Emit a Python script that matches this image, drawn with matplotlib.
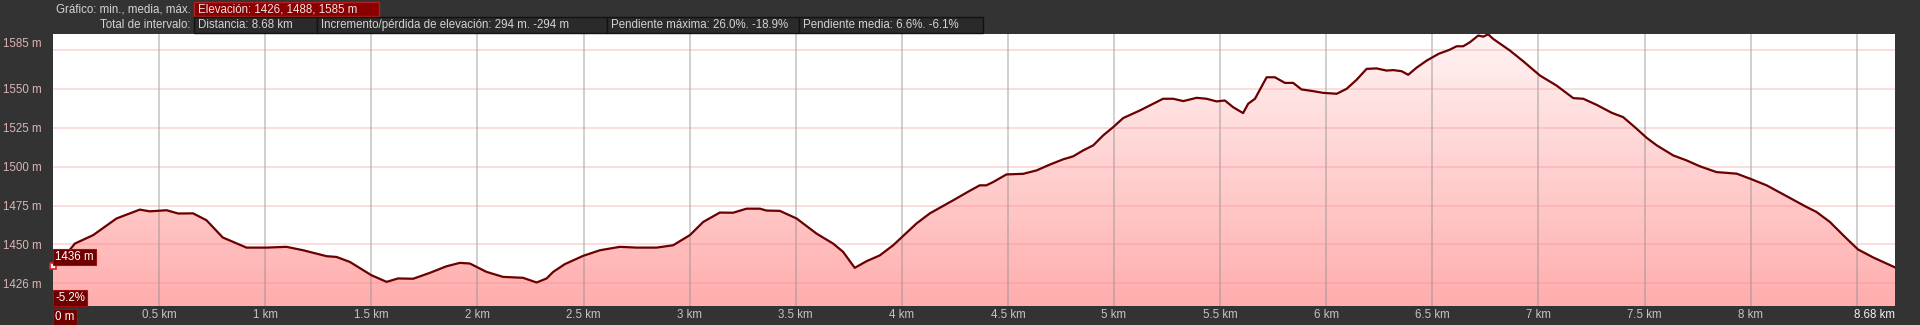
import numpy as np
import matplotlib.pyplot as plt
from matplotlib.colors import LinearSegmentedColormap
from matplotlib.patches import Rectangle

plt.rcParams['font.family'] = ['Liberation Sans', 'DejaVu Sans']

# elevation profile (km, m)
dist_km = [0.00, 0.04, 0.103, 0.189, 0.299, 0.409, 0.456, 0.535, 0.59, 0.66,
           0.723, 0.80, 0.912, 1.006, 1.10, 1.179, 1.289, 1.336, 1.399, 1.50,
           1.572, 1.626, 1.697, 1.776, 1.854, 1.917, 1.964, 2.043, 2.121, 2.184,
           2.215, 2.279, 2.326, 2.357, 2.412, 2.498, 2.577, 2.671, 2.75, 2.844,
           2.922, 3.001, 3.064, 3.142, 3.205, 3.268, 3.331, 3.362, 3.425, 3.504,
           3.598, 3.676, 3.723, 3.778, 3.834, 3.896, 3.959, 4.006, 4.069, 4.132,
           4.242, 4.32, 4.367, 4.398, 4.43, 4.493, 4.572, 4.635, 4.697, 4.76,
           4.807, 4.854, 4.902, 4.949, 4.996, 5.043, 5.122, 5.169, 5.231, 5.279,
           5.326, 5.389, 5.436, 5.483, 5.522, 5.561, 5.608, 5.632, 5.664, 5.719,
           5.758, 5.805, 5.844, 5.883, 5.938, 5.985, 6.049, 6.096, 6.143, 6.19,
           6.237, 6.284, 6.316, 6.355, 6.386, 6.425, 6.473, 6.53, 6.58, 6.614,
           6.645, 6.677, 6.716, 6.74, 6.763, 6.787, 6.865, 6.928, 7.007, 7.085,
           7.164, 7.211, 7.274, 7.345, 7.399, 7.462, 7.509, 7.557, 7.635, 7.698,
           7.761, 7.839, 7.934, 8.004, 8.075, 8.185, 8.263, 8.31, 8.373, 8.452,
           8.506, 8.577, 8.624, 8.68]
elev_m = [1436, 1440, 1450.6, 1456, 1466.7, 1472.4, 1471.3, 1472, 1469.9, 1470,
          1465.6, 1454.5, 1448, 1448, 1448.5, 1446.3, 1442.5, 1442, 1438.8, 1430.3,
          1426, 1428.2, 1428, 1431.8, 1436, 1438.2, 1437.8, 1432.4, 1429.2, 1428.8,
          1428.6, 1425.6, 1428.2, 1432.4, 1437.4, 1442.7, 1446.3, 1448.5, 1448, 1448,
          1449.5, 1456, 1464.5, 1470.5, 1470.4, 1473, 1473, 1471.8, 1471.6, 1466.7,
          1457, 1450.6, 1445.3, 1435, 1439.3, 1443, 1449.5, 1455.5, 1463.5, 1470,
          1478.4, 1484.5, 1488, 1488, 1490.1, 1495, 1495.4, 1497.6, 1501.3, 1504.7,
          1506.6, 1510.4, 1513.7, 1520.1, 1525.4, 1531.2, 1536.1, 1539.3, 1543.6, 1543.6,
          1542.1, 1544.2, 1543.6, 1541.9, 1542.5, 1538.2, 1534.4, 1540.4, 1543.6, 1557.4,
          1557.4, 1553.8, 1553.8, 1549.6, 1548.5, 1547.4, 1546.8, 1550, 1555.8, 1562.8,
          1563.1, 1561.7, 1562, 1561.3, 1559, 1563.5, 1568.1, 1572.5, 1575, 1577.3,
          1577.3, 1579.9, 1584.2, 1583.5, 1585, 1582, 1574.6, 1567.7, 1558.5, 1552.1,
          1544, 1543.6, 1539.7, 1534.6, 1531.8, 1524.4, 1518.6, 1513.7, 1507.2, 1504,
          1500.2, 1496.5, 1495.5, 1491.9, 1488, 1479.9, 1474.1, 1470.9, 1464.5, 1453.8,
          1446.8, 1441.7, 1438.8, 1435.3]

x_ticks = [0.5, 1, 1.5, 2, 2.5, 3, 3.5, 4, 4.5, 5, 5.5, 6, 6.5, 7, 7.5, 8, 8.5]
x_labels = ["0.5 km", "1 km", "1.5 km", "2 km", "2.5 km", "3 km", "3.5 km", "4 km",
            "4.5 km", "5 km", "5.5 km", "6 km", "6.5 km", "7 km", "7.5 km", "8 km",
            ""]  # 8.5 km label is hidden behind the end label in the original
y_grid = [1425, 1450, 1475, 1500, 1525, 1550, 1575]
y_label_pos = [1580, 1550, 1525, 1500, 1475, 1450, 1425]
y_labels = ["1585 m", "1550 m", "1525 m", "1500 m", "1475 m", "1450 m", "1426 m"]

total_km = 8.68
elev_min, elev_mean, elev_max = 1426, 1488, 1585
gain, loss = 294, -294
slope_max_up, slope_max_down = 26.0, -18.9
slope_mean_up, slope_mean_down = 6.6, -6.1
start_slope = -5.2

W, H = 1920, 325
BG = '#333333'
ylo, yhi = 1410.5, 1585

fig = plt.figure(figsize=(W / 100, H / 100), dpi=100, facecolor=BG)
ax = fig.add_axes([53 / W, 19 / H, (1895 - 53) / W, (306 - 34.3) / H])
ax.set_facecolor('white')

# gradient fill under the profile
cmap = LinearSegmentedColormap.from_list('pinkfade', ['#ffadad', '#fff3f3'])
grad = np.linspace(0, 1, 256).reshape(-1, 1)
img = ax.imshow(grad, extent=[0, total_km, ylo, yhi], origin='lower',
                aspect='auto', cmap=cmap, zorder=1)
poly = ax.fill_between(dist_km, elev_m, ylo, color='none', lw=0)
img.set_clip_path(poly.get_paths()[0], transform=ax.transData)

for v in x_ticks:
    ax.axvline(v, color='#8c8c8c', alpha=0.45, lw=1.3, zorder=2)
for h in y_grid:
    ax.axhline(h, color='#f08a8a', alpha=0.3, lw=1.3, zorder=2)

ax.plot(dist_km, elev_m, color='#6a0000', lw=1.6, zorder=3)
ax.plot(dist_km[0], elev_m[0], marker='s', ms=5, mfc='white', mec='#e02020',
        mew=1.2, zorder=4, clip_on=False)

ax.set_xlim(0, total_km)
ax.set_ylim(ylo, yhi)
ax.set_xticks(x_ticks, x_labels)
ax.set_yticks(y_label_pos, y_labels)
ax.tick_params(axis='x', length=0, pad=2.5, labelsize=8.3, labelcolor='#c4c4c4')
ax.tick_params(axis='y', length=0, pad=8.1, labelsize=8.3, labelcolor='#dcb4b4')
for s in ax.spines.values():
    s.set_visible(False)

box = dict(boxstyle='square,pad=0.18', fc='#6e0000', ec='#a01010', lw=0.8)
ax.annotate('8.68 km', xy=(total_km, 0), xycoords=('data', 'axes fraction'),
            xytext=(0, -2.5), textcoords='offset points', ha='right', va='top',
            fontsize=8.3, color='#f2f2f2')
ax.annotate('0 m', xy=(0, 0), xycoords=('data', 'axes fraction'),
            xytext=(1.5, -3.5), textcoords='offset points', ha='left', va='top',
            fontsize=8.3, color='white', bbox=box)
ax.annotate(f'{round(elev_m[0])} m', xy=(0, 1442), xytext=(1.5, 0),
            textcoords='offset points', ha='left', va='center', fontsize=8.3,
            color='white', bbox=box, zorder=5)
ax.annotate(f'{start_slope}%', xy=(0, 1415.6), xytext=(1.5, 0),
            textcoords='offset points', ha='left', va='center', fontsize=8.3,
            color='white', bbox=box, zorder=5)


# header
def px(x, y):
    return x / W, 1 - y / H


def hbox(x0, x1, y0, y1, fc, ec):
    r = Rectangle(px(x0, y1), (x1 - x0) / W, (y1 - y0) / H,
                  transform=fig.transFigure, fc=fc, ec=ec, lw=1)
    fig.add_artist(r)


TXT = '#d4d4d4'
fig.text(*px(191, 9), 'Gráfico: min., media, máx.', ha='right', va='center',
         fontsize=8.3, color=TXT)
hbox(194, 379, 1.7, 16, '#8a0000', '#b02020')
fig.text(*px(198, 9), f'Elevación: {elev_min}, {elev_mean}, {elev_max} m',
         ha='left', va='center', fontsize=8.3, color='#f0e0e0')

fig.text(*px(191, 25), 'Total de intervalo:', ha='right', va='center',
         fontsize=8.3, color=TXT)
row2 = [
    (194, 317, f'Distancia: {total_km} km'),
    (317, 607, f'Incremento/pérdida de elevación: {gain} m. {loss} m'),
    (607, 799, f'Pendiente máxima: {slope_max_up}%. {slope_max_down}%'),
    (799, 983, f'Pendiente media: {slope_mean_up}%. {slope_mean_down}%'),
]
for x0, x1, label in row2:
    hbox(x0, x1, 17.3, 32.7, '#2a2a2a', '#121212')
    fig.text(*px(x0 + 4, 25), label, ha='left', va='center', fontsize=8.3,
             color=TXT)

fig.savefig('out.png', dpi=100, facecolor=BG)
plt.close(fig)
